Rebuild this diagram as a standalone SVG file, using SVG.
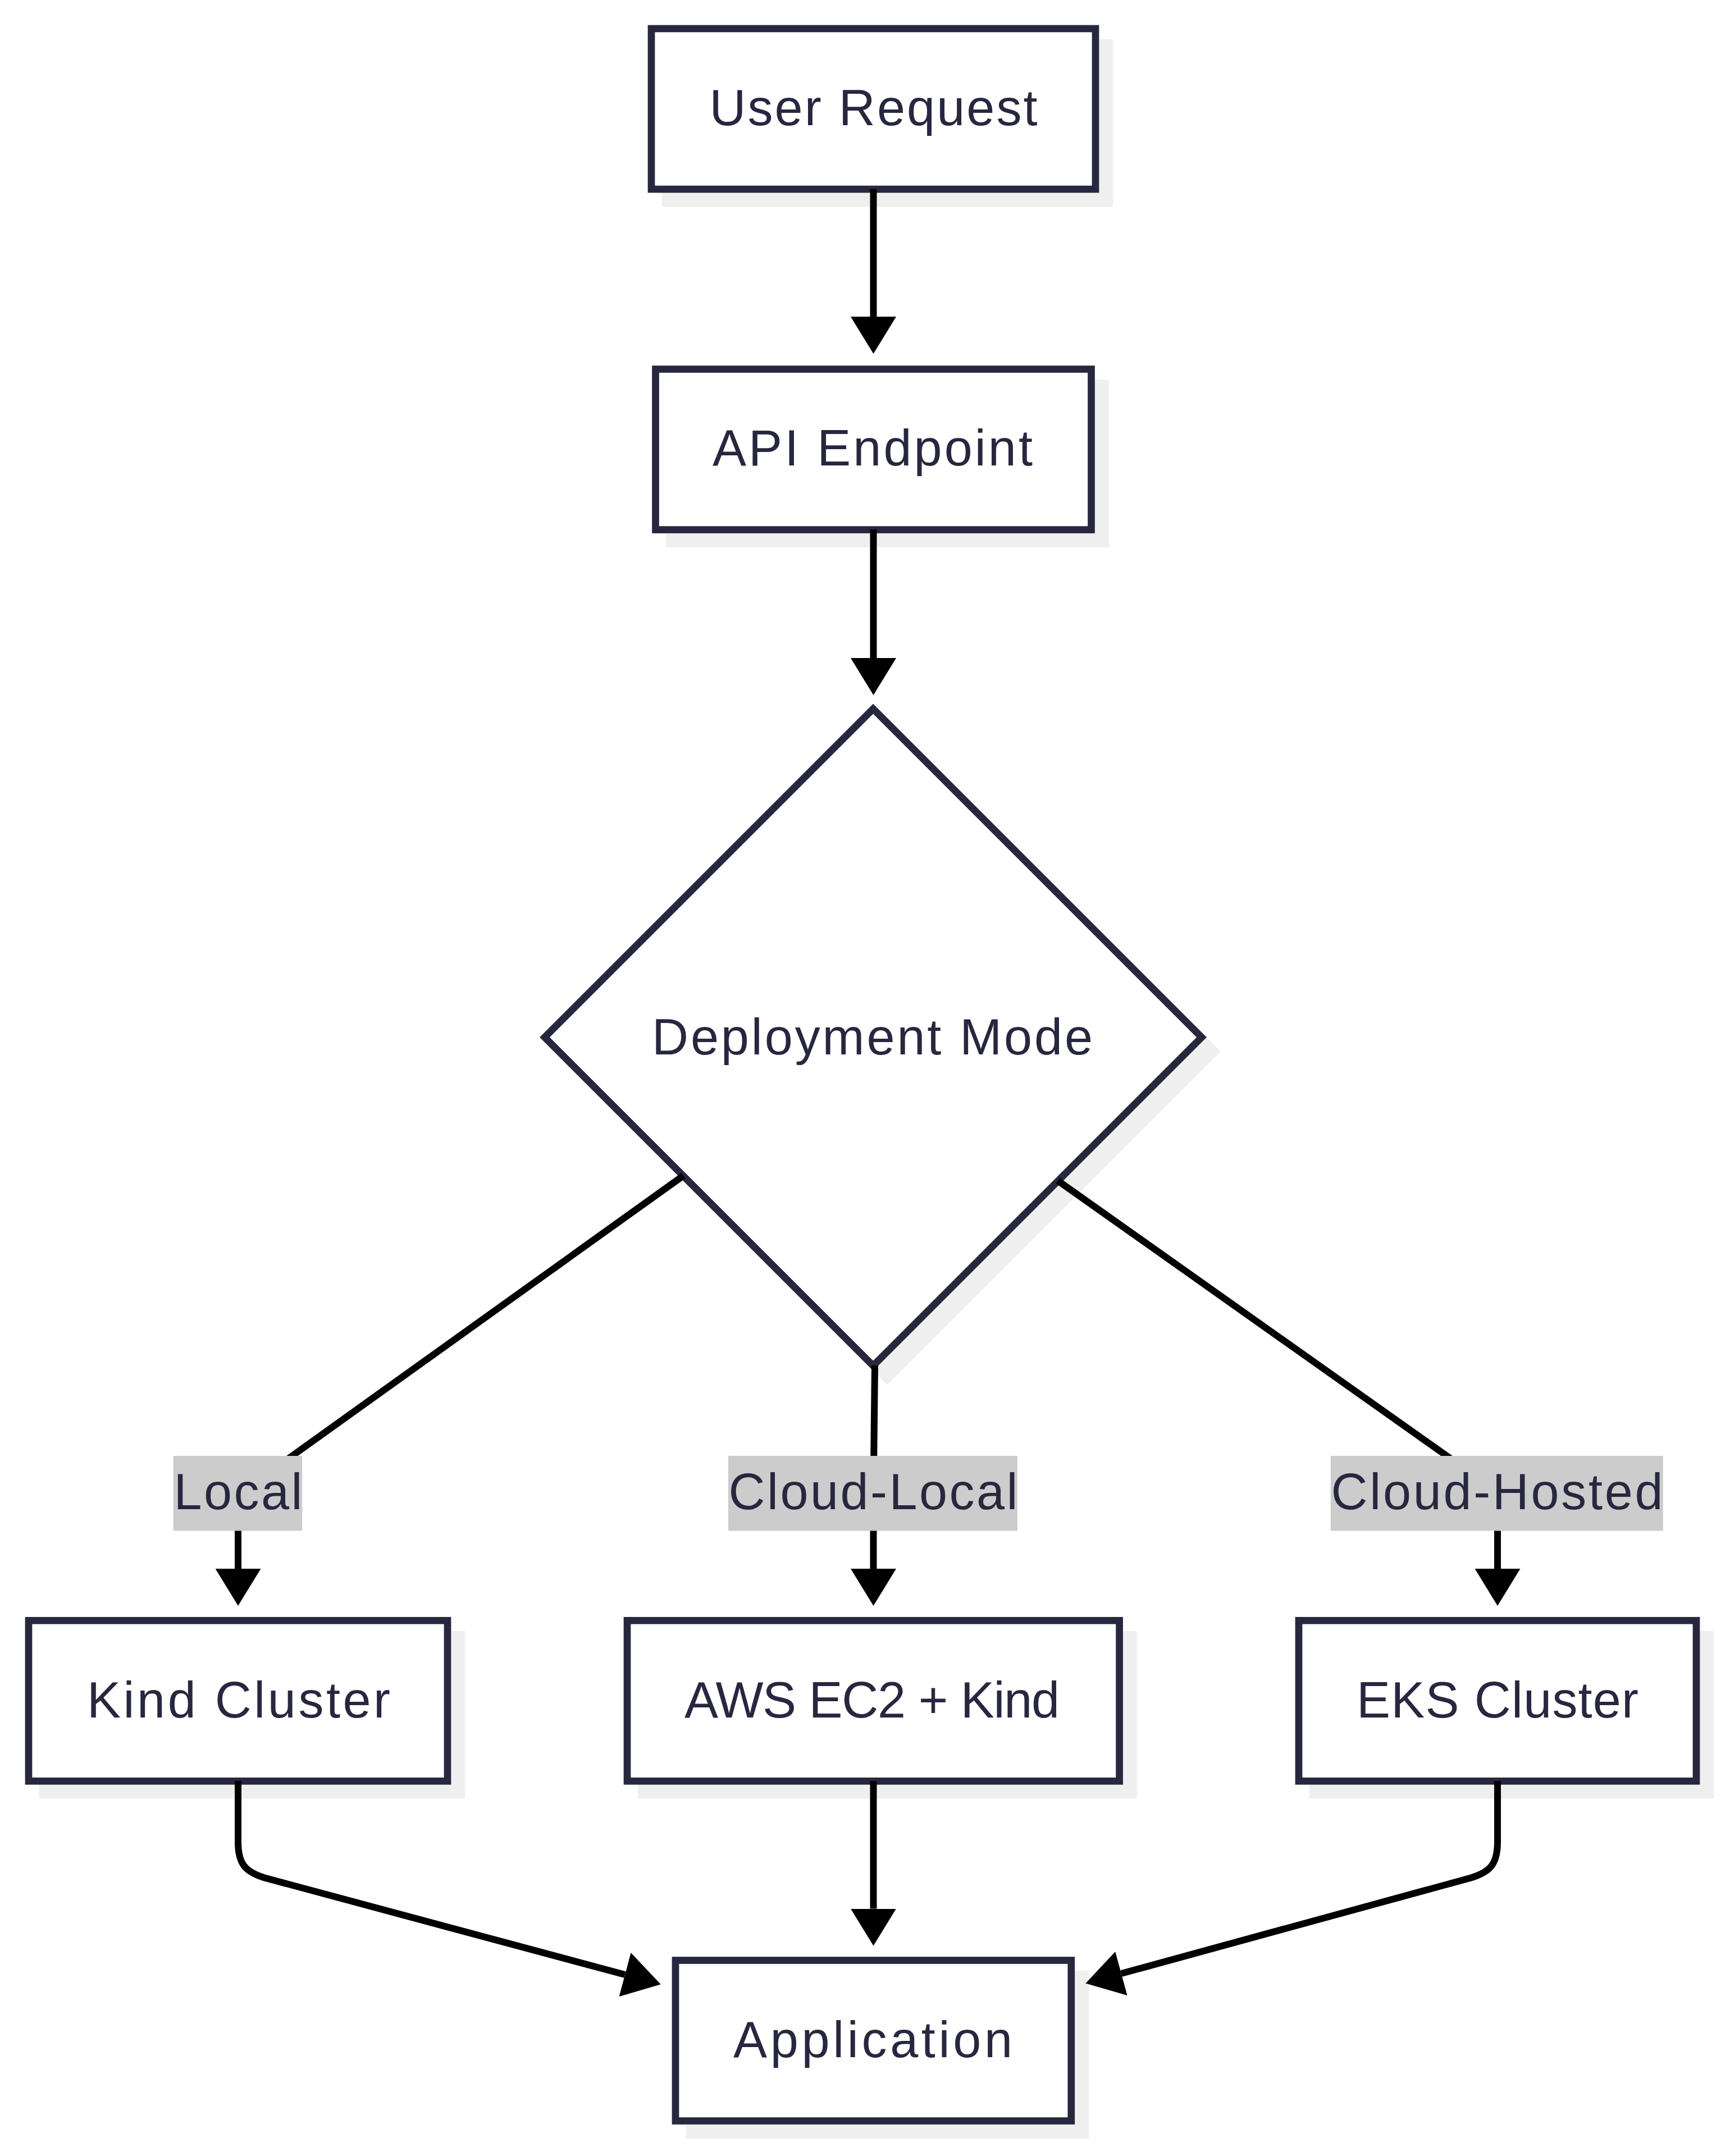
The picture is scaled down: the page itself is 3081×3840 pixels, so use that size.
<svg xmlns="http://www.w3.org/2000/svg" width="3081" height="3840" viewBox="0 0 3081 3840">
<defs>
<style>
.bg{fill:#ffffff}
.shadow{fill:#efefef;stroke:#efefef;stroke-width:12.7}
.shape{fill:#ffffff;stroke:#27273f;stroke-width:12.7}
.txt{font-family:"Liberation Sans","DejaVu Sans",sans-serif;font-size:90px;fill:#27273f;text-anchor:middle}
.edge{fill:none;stroke:#000000;stroke-width:12}
.lblbg{fill:#cccccc}
</style>
<marker id="arrow" markerUnits="userSpaceOnUse" viewBox="0 0 66 81" markerWidth="66" markerHeight="81" refX="0" refY="40.5" orient="auto">
<path d="M0,0 L66,40.5 L0,81 z" fill="#000000"/>
</marker>
</defs>
<rect class="bg" x="0" y="0" width="3081" height="3840"/>

<g id="node-user-request">
<rect class="shadow" x="1185" y="76" width="791" height="286"/>
<rect class="shape" x="1160" y="51" width="791" height="286"/>
<text class="txt" x="1555.5" y="223" textLength="584" lengthAdjust="spacing">User Request</text>
</g>

<g id="node-api-endpoint">
<rect class="shadow" x="1192.5" y="682.5" width="776" height="286"/>
<rect class="shape" x="1167.5" y="657.5" width="776" height="286"/>
<text class="txt" x="1554" y="829" textLength="570" lengthAdjust="spacing">API Endpoint</text>
</g>

<g id="node-deployment-mode">
<polygon class="shadow" points="1580,1287.5 2165,1872.5 1580,2457.5 995,1872.5"/>
<polygon class="shape" points="1555,1262.5 2140,1847.5 1555,2432.5 970,1847.5"/>
<text class="txt" x="1553.5" y="1877.5" textLength="785" lengthAdjust="spacing">Deployment Mode</text>
</g>

<g id="node-kind-cluster">
<rect class="shadow" x="76" y="2911.3" width="746" height="286"/>
<rect class="shape" x="51" y="2886.3" width="746" height="286"/>
<text class="txt" x="425" y="3058.5" textLength="540" lengthAdjust="spacing">Kind Cluster</text>
</g>

<g id="node-aws-ec2-kind">
<rect class="shadow" x="1142" y="2911.3" width="876.6" height="286"/>
<rect class="shape" x="1117" y="2886.3" width="876.6" height="286"/>
<text class="txt" x="1553" y="3058.5" textLength="668" lengthAdjust="spacing">AWS EC2 + Kind</text>
</g>

<g id="node-eks-cluster">
<rect class="shadow" x="2338" y="2911.3" width="708" height="286"/>
<rect class="shape" x="2313" y="2886.3" width="708" height="286"/>
<text class="txt" x="2667" y="3058.5" textLength="502" lengthAdjust="spacing">EKS Cluster</text>
</g>

<g id="node-application">
<rect class="shadow" x="1228" y="3516.5" width="704.8" height="286"/>
<rect class="shape" x="1203" y="3491.5" width="704.8" height="286"/>
<text class="txt" x="1554.5" y="3663.5" textLength="497" lengthAdjust="spacing">Application</text>
</g>

<g id="connectors">
<path class="edge" marker-end="url(#arrow)" d="M1555.5,337 L1555.5,564"/>
<path class="edge" marker-end="url(#arrow)" d="M1555.5,943 L1555.5,1172"/>
<path class="edge" marker-end="url(#arrow)" d="M1217,2094 L424,2662 L424,2794"/>
<path class="edge" marker-end="url(#arrow)" d="M1558,2432 L1555.5,2660 L1555.5,2794"/>
<path class="edge" marker-end="url(#arrow)" d="M1884,2103 L2667,2657 L2667,2794"/>
<path class="edge" marker-end="url(#arrow)" d="M424,3172 L424,3280 C424,3318 435,3334 473,3345 L1113,3517"/>
<path class="edge" marker-end="url(#arrow)" d="M1555.5,3172 L1555.5,3399.5"/>
<path class="edge" marker-end="url(#arrow)" d="M2667,3172 L2667,3280 C2667,3318 2656,3334 2618,3345 L1997,3515"/>
</g>

<g id="edge-labels">
<g id="label-local">
<rect class="lblbg" x="308.7" y="2593" width="229.6" height="133.5"/>
<text class="txt" x="424" y="2688" textLength="229" lengthAdjust="spacing">Local</text>
</g>
<g id="label-cloud-local">
<rect class="lblbg" x="1296.8" y="2593" width="515.2" height="133.5"/>
<text class="txt" x="1555" y="2688" textLength="515" lengthAdjust="spacing">Cloud-Local</text>
</g>
<g id="label-cloud-hosted">
<rect class="lblbg" x="2369.8" y="2593" width="592" height="133.5"/>
<text class="txt" x="2666" y="2688" textLength="591" lengthAdjust="spacing">Cloud-Hosted</text>
</g>
</g>
</svg>
